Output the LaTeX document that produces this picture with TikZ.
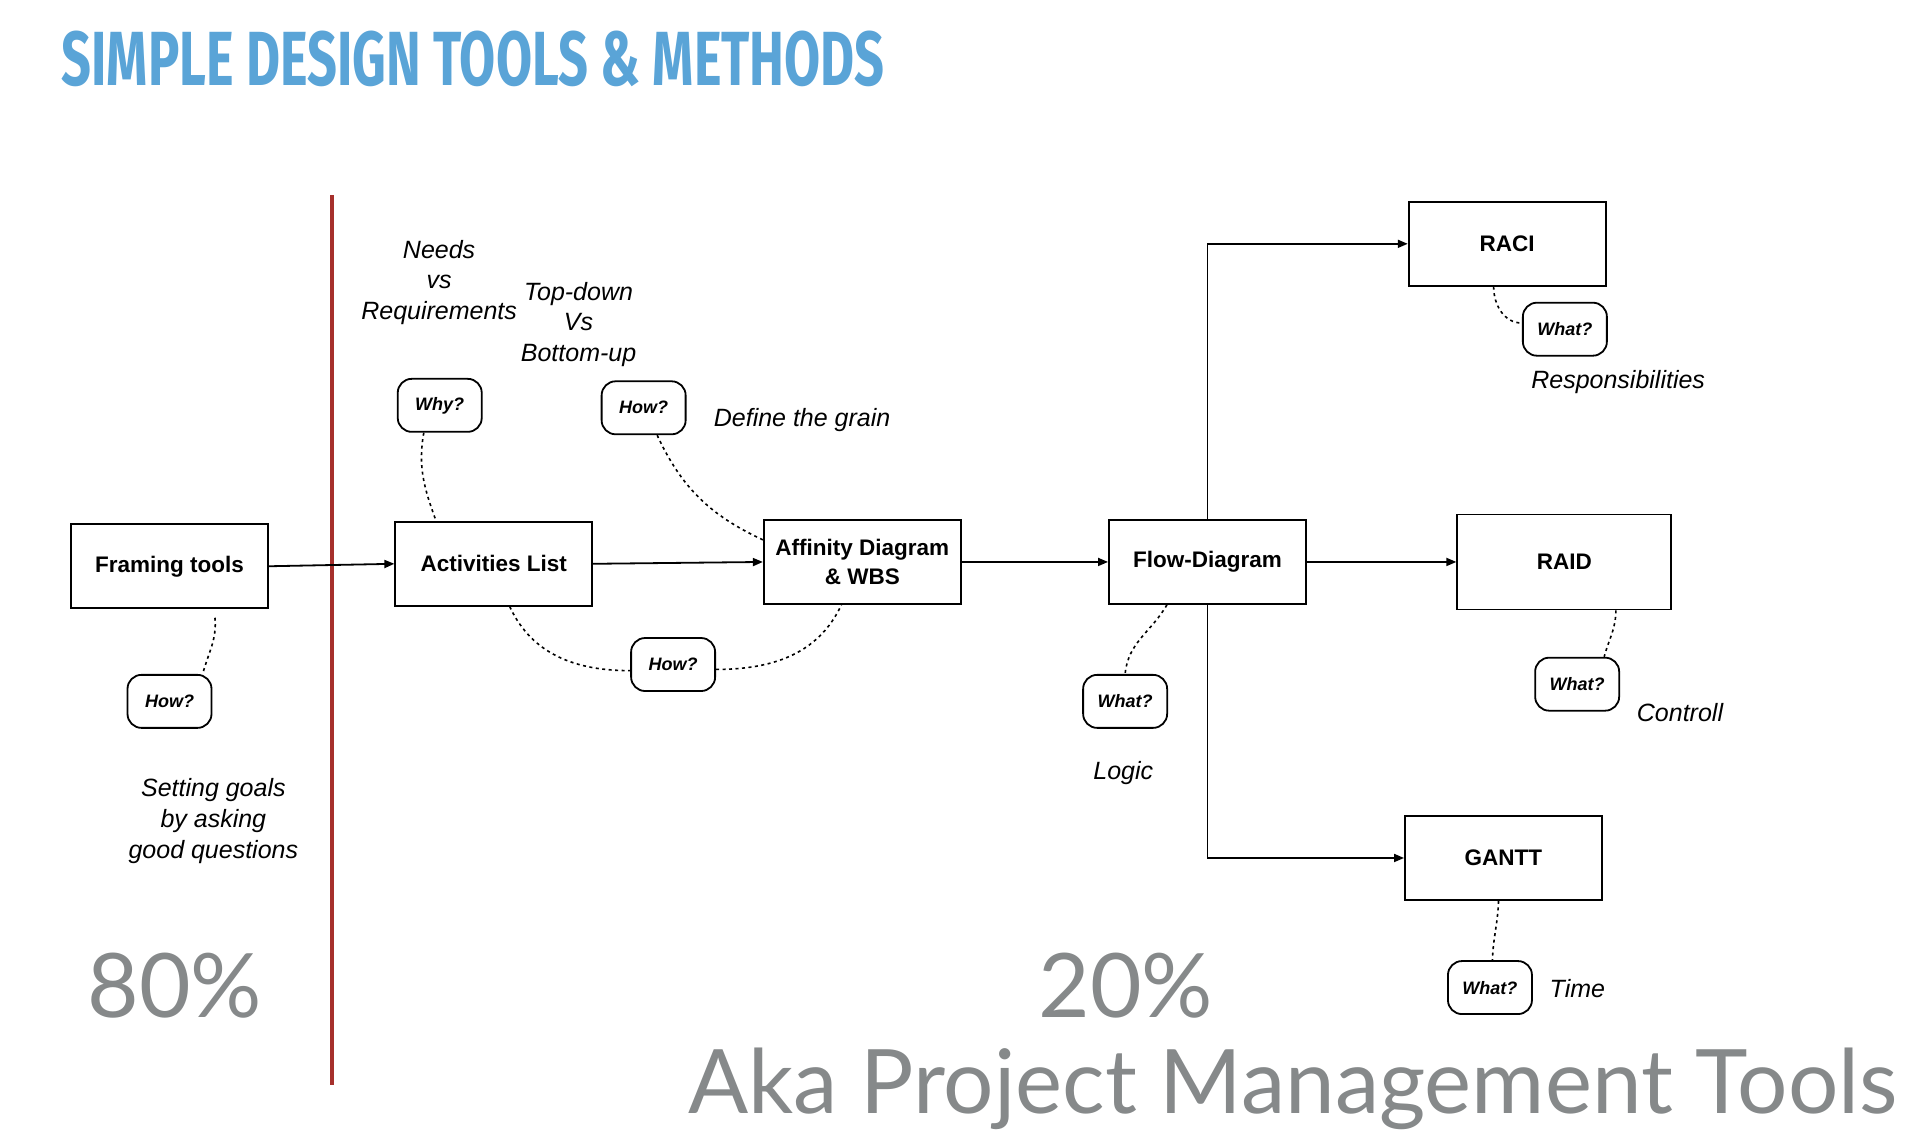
\documentclass[tikz,border=0pt]{standalone}
\usepackage{fontspec}
\usepackage{graphicx}
\setmainfont{Liberation Sans}
\newfontfamily\bigfont{Lato}
\newfontfamily\titlefont{Fira Sans}
\usetikzlibrary{arrows.meta,calc}
\definecolor{titleblue}{RGB}{90,164,215}
\definecolor{biggray}{RGB}{134,137,138}
\definecolor{redline}{RGB}{166,48,44}
\begin{document}
\begin{tikzpicture}[x=1.22832pt,y=-1.22832pt,
  box/.style={draw,line width=1.8pt,minimum width=197pt,minimum height=84pt,inner sep=0pt,align=center,font=\fontsize{22.5}{28.4}\selectfont\bfseries},
  bubble/.style={draw,line width=1.8pt,rounded corners=14pt,minimum width=84pt,minimum height=53pt,inner sep=0pt,font=\fontsize{18}{22}\selectfont\bfseries\itshape},
  lbl/.style={align=center,font=\fontsize{25}{30.7}\selectfont\itshape,inner sep=0pt},
  arr/.style={line width=1.8pt,-{Triangle[length=10pt,width=8pt]}},
  dotline/.style={line width=1.6pt,dash pattern=on 3pt off 3.5pt},
  big/.style={font=\fontsize{89}{100}\selectfont\bigfont,text=biggray,inner sep=0pt,anchor=base west}]
\useasboundingbox (0,0) rectangle (1568,928.1);

% title
\node[anchor=base west,inner sep=0pt,text=titleblue] (title) at (50,69.6)
  {\resizebox{823pt}{54.5pt}{\titlefont\bfseries SIMPLE DESIGN TOOLS \& METHODS}};

% red divider
\coordinate (rtop) at (270,159);
\coordinate (rbot) at (270,883);
\draw[redline,line width=3.8pt] (rtop) -- (rbot);

% boxes
\node[box] (frame) at (138,461) {Framing tools};
\node[box] (act) at (402,459) {Activities List};
\node[box] (aff) at (702,457.5) {Affinity Diagram\\\& WBS};
\node[box] (flow) at (983,457.5) {Flow-Diagram};
\node[box] (raci) at (1227,198.5) {RACI};
\node[box,minimum width=214pt,minimum height=95pt] (raid) at (1273.5,457.5) {RAID};
\node[box] (gantt) at (1224,698.5) {GANTT};

% bubbles
\node[bubble] (why) at (358,330) {Why?};
\node[bubble] (howa) at (524,332) {How?};
\node[bubble] (howb) at (548,541) {How?};
\node[bubble] (howc) at (138,571) {How?};
\node[bubble] (whata) at (1274,268) {What?};
\node[bubble] (whatb) at (916,571) {What?};
\node[bubble] (whatc) at (1284,557) {What?};
\node[bubble] (whatd) at (1213,804) {What?};

% labels
\node[lbl] (needs) at (357.5,230) {Needs\\vs\\Requirements};
\node[lbl] (topdown) at (471,264) {Top-down\\Vs\\Bottom-up};
\node[lbl,anchor=base west] (grain) at (581,347) {Define the grain};
\node[lbl,anchor=base west] (resp) at (1246.5,316) {Responsibilities};
\node[lbl,anchor=base west] (ctrl) at (1332.5,587) {Controll};
\node[lbl,anchor=base west] (logic) at (890,634.4) {Logic};
\node[lbl,anchor=base west] (time) at (1261.5,812) {Time};
\node[lbl] (goals) at (173.7,668.5) {Setting goals\\by asking\\good questions};

% big gray texts
\node[big] (p80) at (71,828.3) {80\%};
\node[big] (p20) at (845.5,828.3) {20\%};
\node[big] (aka) at (560,906.7) {Aka Project Management Tools};

% arrows
\draw[arr] (frame.east) -- (act.west);
\draw[arr] (act.east) -- (aff.west);
\draw[arr] (aff.east) -- (flow.west);
\draw[arr] (flow.east) -- (raid.west);
\draw[arr] (flow.north) |- (raci.west);
\draw[arr] (flow.south) |- (gantt.west);

% dotted connectors
\draw[dotline] ($(frame.south)+(37,7)$) to[out=-85,in=75] ($(howc.north)+(27,0)$);
\draw[dotline] ($(why.south)+(-13,0)$) to[out=-100,in=110] ($(act.north)+(-47,0)$);
\draw[dotline] ($(howa.south)+(11,0)$) to[out=-65,in=155] ($(aff.west)+(0,-18)$);
\draw[dotline] ($(act.south)+(13,0)$) to[out=-65,in=180] ($(howb.west)+(0,5)$);
\draw[dotline] ($(howb.east)+(0,4)$) to[out=0,in=-115] ($(aff.south)+(-17,0)$);
\draw[dotline] ($(flow.south)+(-33,0)$) to[out=-120,in=85] ($(whatb.north)+(0,0)$);
\draw[dotline] ($(raci.south)+(-11,0)$) to[out=-90,in=180] ($(whata.west)+(0,-5)$);
\draw[dotline] ($(raid.south)+(42,0)$) to[out=-90,in=75] ($(whatc.north)+(22,0)$);
\draw[dotline] ($(gantt.south)+(-4,0)$) to[out=-92,in=88] ($(whatd.north)+(2,0)$);
\end{tikzpicture}
\end{document}
